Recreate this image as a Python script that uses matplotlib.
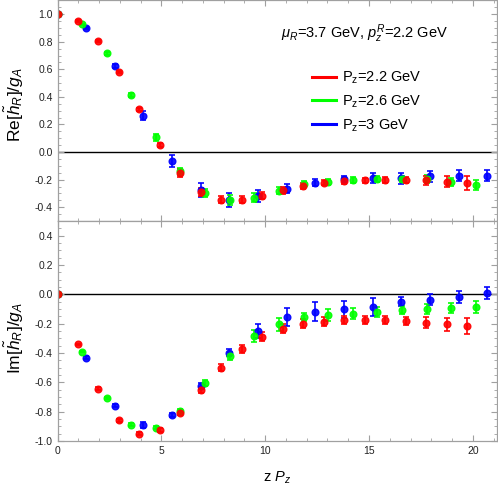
import numpy as np
import matplotlib
matplotlib.use('Agg')
import matplotlib.pyplot as plt
from matplotlib.lines import Line2D
from matplotlib.ticker import MultipleLocator

## DATA ##
# z*Pz positions per momentum
red_x = [0, 0.99, 1.97, 2.96, 3.94, 4.93, 5.92, 6.90, 7.89, 8.87, 9.86, 10.85,
         11.83, 12.82, 13.80, 14.79, 15.78, 16.77, 17.75, 18.74, 19.73]
green_x = [0, 1.18, 2.37, 3.55, 4.74, 5.92, 7.11, 8.29, 9.48, 10.66, 11.85,
           13.03, 14.22, 15.40, 16.59, 17.77, 18.96, 20.14]
blue_x = [0, 1.38, 2.76, 4.14, 5.52, 6.90, 8.28, 9.66, 11.04, 12.42, 13.80,
          15.18, 16.56, 17.94, 19.32, 20.70]

# real part
red_re = [1.0, 0.951, 0.806, 0.580, 0.311, 0.051, -0.153, -0.291, -0.347, -0.347,
          -0.318, -0.279, -0.245, -0.221, -0.209, -0.206, -0.204, -0.204, -0.206,
          -0.216, -0.226]
red_re_err = [0, 0.005, 0.005, 0.008, 0.01, 0.015, 0.03, 0.03, 0.025, 0.025, 0.025,
              0.022, 0.02, 0.02, 0.02, 0.02, 0.02, 0.022, 0.03, 0.04, 0.05]
green_re = [1.0, 0.927, 0.716, 0.415, 0.107, -0.14, -0.299, -0.347, -0.33, -0.282,
            -0.231, -0.216, -0.201, -0.197, -0.197, -0.197, -0.216, -0.238]
green_re_err = [0, 0.005, 0.008, 0.015, 0.025, 0.025, 0.03, 0.035, 0.03, 0.025,
                0.02, 0.02, 0.02, 0.02, 0.022, 0.03, 0.03, 0.035]
blue_re = [1.0, 0.898, 0.624, 0.265, -0.068, -0.274, -0.347, -0.318, -0.265, -0.221,
           -0.197, -0.189, -0.189, -0.177, -0.172, -0.172]
blue_re_err = [0, 0.008, 0.015, 0.03, 0.044, 0.053, 0.05, 0.044, 0.03, 0.022, 0.022,
               0.035, 0.04, 0.04, 0.04, 0.04]

# imaginary part
red_im = [0, -0.341, -0.643, -0.859, -0.95, -0.927, -0.811, -0.655, -0.50, -0.373,
          -0.289, -0.234, -0.202, -0.186, -0.175, -0.173, -0.177, -0.182, -0.193,
          -0.205, -0.216]
red_im_err = [0, 0.005, 0.008, 0.01, 0.012, 0.012, 0.015, 0.02, 0.025, 0.03, 0.033,
              0.032, 0.03, 0.032, 0.028, 0.027, 0.026, 0.03, 0.036, 0.045, 0.057]
green_im = [0, -0.391, -0.709, -0.891, -0.909, -0.795, -0.605, -0.42, -0.284, -0.205,
            -0.155, -0.143, -0.132, -0.118, -0.107, -0.10, -0.095, -0.089]
green_im_err = [0, 0.005, 0.008, 0.01, 0.012, 0.015, 0.02, 0.025, 0.039, 0.043, 0.03,
                0.041, 0.036, 0.034, 0.03, 0.034, 0.036, 0.041]
blue_im = [0, -0.432, -0.759, -0.891, -0.823, -0.625, -0.398, -0.25, -0.155, -0.118,
           -0.102, -0.086, -0.05, -0.036, -0.016, 0.009]
blue_im_err = [0, 0.008, 0.012, 0.018, 0.015, 0.02, 0.025, 0.05, 0.061, 0.064, 0.057,
               0.061, 0.028, 0.039, 0.041, 0.043]

labels = ['P$_\\mathrm{z}$=2.2 GeV', 'P$_\\mathrm{z}$=2.6 GeV', 'P$_\\mathrm{z}$=3 GeV']
RED = (1, 0, 0)
GREEN = (0, 1, 0)
BLUE = (0, 0, 1)

## STYLE ##
plt.rcParams['font.family'] = ['Liberation Sans', 'DejaVu Sans']
plt.rcParams['mathtext.fontset'] = 'custom'
plt.rcParams['mathtext.rm'] = 'Liberation Sans'
plt.rcParams['mathtext.it'] = 'Liberation Sans:italic'
FRAME = '#a0a0a0'

fig = plt.figure(figsize=(4.98, 4.91), dpi=100)
ax1 = fig.add_axes([0.1155, 0.55, 0.882, 0.449])
ax2 = fig.add_axes([0.1155, 0.102, 0.882, 0.448])


def draw(ax, x, y, err, c):
    ax.errorbar(x, y, yerr=err, fmt='o', color=c, ms=4.8, elinewidth=1.3,
                capsize=2.5, capthick=1.3, mec=c, alpha=0.9)


# blue underneath, red on top
draw(ax1, blue_x, blue_re, blue_re_err, BLUE)
draw(ax1, green_x, green_re, green_re_err, GREEN)
draw(ax1, red_x, red_re, red_re_err, RED)
draw(ax2, blue_x, blue_im, blue_im_err, BLUE)
draw(ax2, green_x, green_im, green_im_err, GREEN)
draw(ax2, red_x, red_im, red_im_err, RED)

for ax in (ax1, ax2):
    ax.axhline(0, color='black', lw=1.0, zorder=0)
    ax.set_xlim(0, 21.15)
    ax.xaxis.set_major_locator(MultipleLocator(5))
    ax.xaxis.set_minor_locator(MultipleLocator(1))
    ax.yaxis.set_major_locator(MultipleLocator(0.2))
    ax.yaxis.set_minor_locator(MultipleLocator(0.05))
    ax.tick_params(which='both', direction='in', top=True, right=True,
                   color=FRAME, labelsize=7.5, labelcolor='#222222')
    ax.tick_params(which='major', length=4, width=0.8)
    ax.tick_params(which='minor', length=2.2, width=0.6)
    for s in ax.spines.values():
        s.set_color(FRAME)
        s.set_linewidth(0.9)

ax1.set_ylim(-0.5, 1.1)
ax2.set_ylim(-1.0, 0.5)
ax1.tick_params(labelbottom=False)
ax1.yaxis.set_major_formatter(matplotlib.ticker.FormatStrFormatter('%.1f'))
ax2.yaxis.set_major_formatter(matplotlib.ticker.FormatStrFormatter('%.1f'))
ax1.set_yticks([-0.4, -0.2, 0.0, 0.2, 0.4, 0.6, 0.8, 1.0])
ax2.set_yticks([-1.0, -0.8, -0.6, -0.4, -0.2, 0.0, 0.2, 0.4])

ax1.set_ylabel('Re[$\\tilde{h}_R$]/$g_A$', fontsize=12.5)
ax2.set_ylabel('Im[$\\tilde{h}_R$]/$g_A$', fontsize=12.5)
ax1.yaxis.set_label_coords(-0.072, 0.53)
ax2.yaxis.set_label_coords(-0.072, 0.47)
ax2.set_xlabel('z $P_z$', fontsize=10.5, labelpad=10)

## LEGEND + TEXT ##
ax1.text(0.70, 0.85, '$\\mu_R$=3.7 GeV, $p_z^R$=2.2 GeV', transform=ax1.transAxes,
         ha='center', va='center', fontsize=10.5)
handles = [Line2D([], [], color=c, lw=2.2) for c in (RED, GREEN, BLUE)]
ax1.legend(handles, labels, loc='upper left', bbox_to_anchor=(0.55, 0.745),
           frameon=False, fontsize=10.5, handlelength=1.6, handletextpad=0.45,
           labelspacing=0.5)

fig.savefig('out.png', dpi=100)
print('fertig')
